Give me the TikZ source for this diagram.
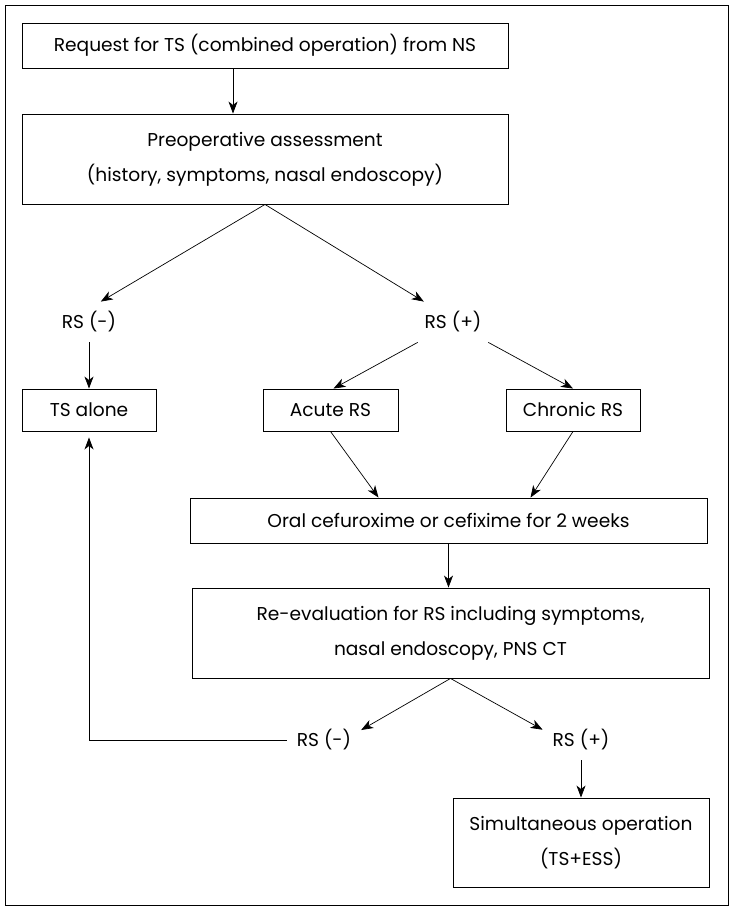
\documentclass[tikz,border=0pt]{standalone}
\usepackage{fontspec}
\setmainfont{Poppins}
\usetikzlibrary{arrows.meta}

\begin{document}
\begin{tikzpicture}[
            x=1pt, y=-1pt,
            >={Stealth[length=12pt,width=9pt,inset=3.5pt]},
            font=\fontsize{18.6}{35}\selectfont,
            box/.style={draw, line width=0.9pt, align=center, inner sep=0pt},
            rslabel/.style={inner sep=2pt, outer sep=8pt},
            link/.style={->, line width=0.7pt},
    ]
    \useasboundingbox (0,0) rectangle (733,910);
    \draw[line width=0.9pt] (5,5) rectangle (728,905);

    % boxes
    \node[box, minimum width=486pt, minimum height=45pt] (request) at (265,45.5)
        {Request for TS (combined operation) from NS};
    \node[box, minimum width=486pt, minimum height=90pt] (assess) at (265,159)
        {Preoperative assessment\\(history, symptoms, nasal endoscopy)};
    \node[box, minimum width=134pt, minimum height=42pt] (tsalone) at (89,410) {TS alone};
    \node[box, minimum width=135pt, minimum height=42pt] (acute) at (330.5,410) {Acute RS};
    \node[box, minimum width=134pt, minimum height=42pt] (chronic) at (573,410) {Chronic RS};
    \node[box, minimum width=517pt, minimum height=45pt] (oral) at (448.5,520.5)
        {Oral cefuroxime or cefixime for 2 weeks};
    \node[box, minimum width=517pt, minimum height=90pt] (reeval) at (450.5,633)
        {Re-evaluation for RS including symptoms,\\nasal endoscopy, PNS CT};
    \node[box, minimum width=256pt, minimum height=89pt] (simul) at (581,842.5)
        {Simultaneous operation\\(TS+ESS)};

    % labels
    \node[rslabel] (rsneg) at (89,322) {RS (-)};
    \node[rslabel] (rspos) at (453,322) {RS (+)};
    \node[rslabel] (rsnegb) at (324,740) {RS (-)};
    \node[rslabel] (rsposb) at (581,740) {RS (+)};

    % connectors
    \draw[link] ([xshift=-32pt]request.south) -- ([xshift=-32pt]assess.north);
    \draw[link] (assess.south) -- (rsneg.60);
    \draw[link] (assess.south) -- (rspos.145);
    \draw[link] (rsneg.south) -- (tsalone.north);
    \draw[link] (rspos.210) -- ([xshift=3pt]acute.north);
    \draw[link] (rspos.330) -- (chronic.north);
    \draw[link] (acute.south) -- ([xshift=-70pt]oral.north);
    \draw[link] (chronic.south) -- ([xshift=82pt]oral.north);
    \draw[link] (oral.south) -- (oral.south |- reeval.north);
    \draw[link] (reeval.south) -- (rsnegb.15);
    \draw[link] (reeval.south) -- (rsposb.165);
    \draw[link] (rsnegb.west) -| ([yshift=-6pt]tsalone.south);
    \draw[link] (rsposb.south) -- (simul.north);
\end{tikzpicture}
\end{document}
